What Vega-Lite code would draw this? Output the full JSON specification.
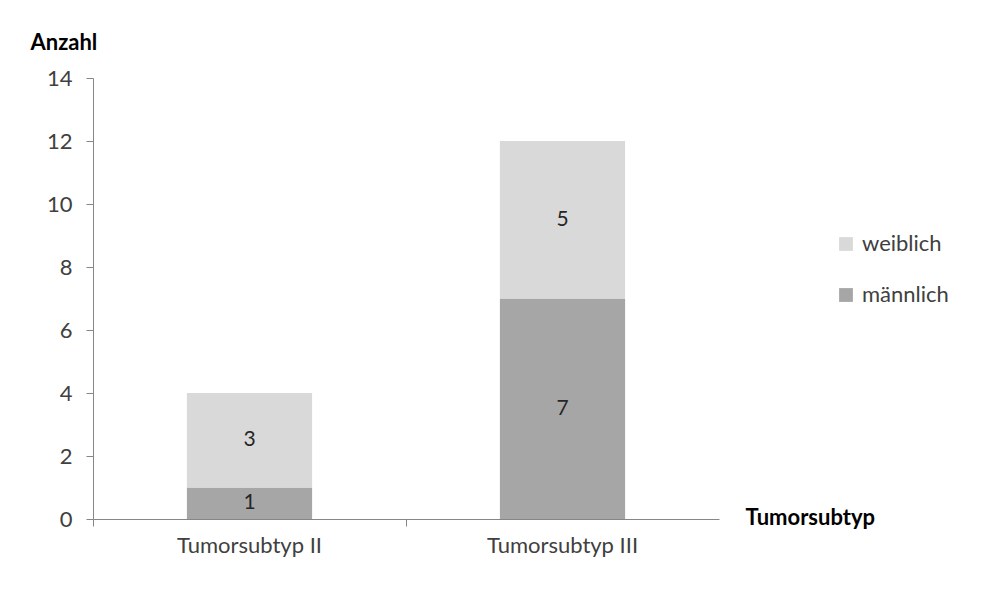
{
  "$schema": "https://vega.github.io/schema/vega-lite/v6.json",
  "width": 626,
  "height": 441,
  "autosize": "none",
  "padding": {"left": 93, "top": 78, "right": 284, "bottom": 77},
  "background": "white",
  "data": {
    "values": [
      {"Subtyp": "Tumorsubtyp II", "Geschlecht": "männlich", "Anzahl": 1},
      {"Subtyp": "Tumorsubtyp II", "Geschlecht": "weiblich", "Anzahl": 3},
      {"Subtyp": "Tumorsubtyp III", "Geschlecht": "männlich", "Anzahl": 7},
      {"Subtyp": "Tumorsubtyp III", "Geschlecht": "weiblich", "Anzahl": 5}
    ]
  },
  "encoding": {
    "x": {
      "field": "Subtyp",
      "type": "nominal",
      "scale": {"paddingInner": 0.6, "paddingOuter": 0.3},
      "axis": {
        "title": "Tumorsubtyp",
        "titleFont": "Lato",
        "titleFontSize": 22,
        "titleFontWeight": "bold",
        "titleColor": "#000000",
        "titleAngle": 0,
        "titleAlign": "left",
        "titleBaseline": "middle",
        "titleX": 652,
        "titleY": -2,
        "labelAngle": 0,
        "labelFont": "Lato",
        "labelFontSize": 22,
        "labelColor": "#404040",
        "labelPadding": 9,
        "bandPosition": -0.75,
        "tickSize": 7,
        "tickColor": "#868686",
        "domainColor": "#868686"
      }
    },
    "y": {
      "field": "Anzahl",
      "type": "quantitative",
      "stack": "zero",
      "scale": {"domain": [0, 14], "nice": false},
      "axis": {
        "title": "Anzahl",
        "titleFont": "Lato",
        "titleFontSize": 22,
        "titleFontWeight": "bold",
        "titleColor": "#000000",
        "titleAngle": 0,
        "titleAlign": "left",
        "titleBaseline": "middle",
        "titleX": -63,
        "titleY": -36,
        "values": [0, 2, 4, 6, 8, 10, 12, 14],
        "grid": false,
        "labelFont": "Lato",
        "labelFontSize": 22,
        "labelColor": "#404040",
        "labelPadding": 14,
        "tickSize": 7,
        "tickColor": "#868686",
        "domainColor": "#868686"
      }
    },
    "order": {"field": "Geschlecht", "sort": "ascending"}
  },
  "layer": [
    {
      "mark": {"type": "bar"},
      "encoding": {
        "color": {
          "field": "Geschlecht",
          "type": "nominal",
          "scale": {"domain": ["weiblich", "männlich"], "range": ["#d9d9d9", "#a6a6a6"]},
          "legend": {
            "title": null,
            "orient": "none",
            "legendX": 742,
            "legendY": 155,
            "symbolType": "square",
            "symbolSize": 190,
            "symbolStrokeWidth": 0,
            "labelFont": "Lato",
            "labelFontSize": 22,
            "labelColor": "#404040",
            "labelOffset": 5,
            "rowPadding": 29
          }
        }
      }
    },
    {
      "mark": {"type": "text", "font": "Lato", "fontSize": 21, "color": "#262626"},
      "encoding": {
        "y": {"field": "Anzahl", "type": "quantitative", "stack": "zero", "bandPosition": 0.5},
        "text": {"field": "Anzahl", "type": "quantitative"}
      }
    }
  ],
  "config": {"view": {"stroke": null}}
}
